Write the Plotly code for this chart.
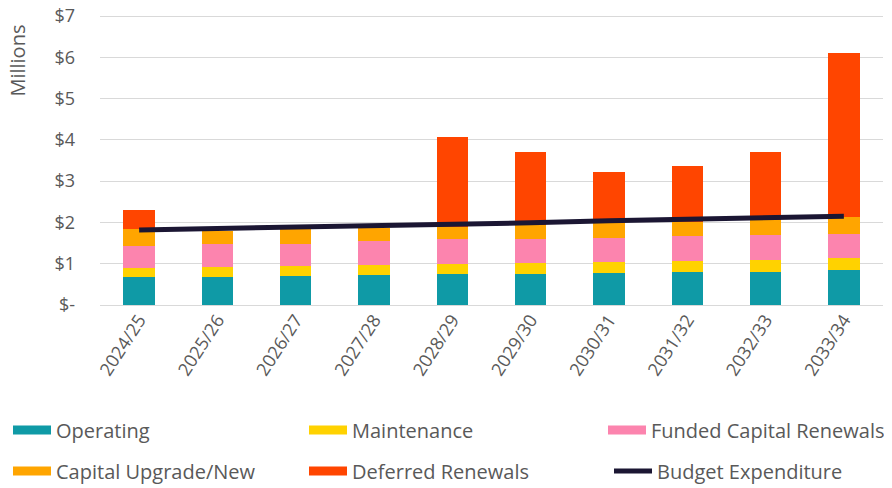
import plotly.graph_objects as go

years = ["2024/25", "2025/26", "2026/27", "2027/28", "2028/29",
         "2029/30", "2030/31", "2031/32", "2032/33", "2033/34"]
operating = [0.67, 0.69, 0.71, 0.72, 0.74, 0.76, 0.77, 0.79, 0.81, 0.84]
maintenance = [0.23, 0.24, 0.23, 0.26, 0.26, 0.26, 0.27, 0.27, 0.28, 0.29]
funded_capital = [0.54, 0.54, 0.55, 0.58, 0.59, 0.59, 0.59, 0.61, 0.61, 0.59]
capital_upgrade = [0.39, 0.33, 0.37, 0.31, 0.31, 0.32, 0.36, 0.35, 0.36, 0.42]
deferred = [0.48, 0, 0, 0, 2.18, 1.78, 1.23, 1.34, 1.64, 3.97]
budget = [1.82, 1.85, 1.89, 1.93, 1.96, 1.99, 2.04, 2.07, 2.11, 2.15]

tick_vals = [0, 1, 2, 3, 4, 5, 6, 7]
tick_text = ["$-", "$1", "$2", "$3", "$4", "$5", "$6", "$7"]

FONT = "Open Sans"
GREY = "#595959"
# page body has an 8px margin, so the figure is sized to fill the rest of the window
W, H = 884, 480

series = [
    ("Operating", operating, "#0F9AA6"),
    ("Maintenance", maintenance, "#FFD200"),
    ("Funded Capital Renewals", funded_capital, "#FC84AE"),
    ("Capital Upgrade/New", capital_upgrade, "#FFA500"),
    ("Deferred Renewals", deferred, "#FF4500"),
]
# legend slots: (x px of legend box, y px of row centre), figure coordinates
legend_slots = [(0, 422), (296, 422), (595, 422),
                (0, 463), (296, 463), (601, 463)]

fig = go.Figure()
for name, vals, col in series:
    fig.add_trace(go.Bar(x=years, y=vals, name=name, marker_color=col,
                         marker_line_width=0, showlegend=False))

fig.add_trace(go.Scatter(x=years, y=budget, mode="lines", name="Budget Expenditure",
                         line=dict(color="#1B1633", width=5), showlegend=False))

legend_ids = ["legend", "legend2", "legend3", "legend4", "legend5", "legend6"]
for i, (name, vals, col) in enumerate(series):
    fig.add_trace(go.Scatter(x=[None], y=[None], mode="lines", name=name,
                             line=dict(color=col, width=9), legend=legend_ids[i]))
fig.add_trace(go.Scatter(x=[None], y=[None], mode="lines", name="Budget Expenditure",
                         line=dict(color="#1B1633", width=5), legend=legend_ids[5]))

legends = {}
for lid, (lx, ly) in zip(legend_ids, legend_slots):
    legends[lid] = dict(xref="container", yref="container",
                        x=lx / W, y=1 - ly / H, xanchor="left", yanchor="middle",
                        itemwidth=38, bgcolor="rgba(0,0,0,0)",
                        font=dict(family=FONT, size=20, color=GREY))

fig.update_layout(
    width=W, height=H,
    barmode="stack", bargap=0.6,
    plot_bgcolor="white", paper_bgcolor="white",
    margin=dict(l=92, r=9, t=6, b=183, autoexpand=False),
    font=dict(family=FONT, color=GREY, size=18),
    xaxis=dict(tickangle=-57, tickfont=dict(size=18, color=GREY),
               showgrid=False, showline=False, ticks="", automargin=False,
               ticklabeloverflow="allow"),
    yaxis=dict(range=[0, 7.05], tickvals=tick_vals, ticktext=tick_text,
               tickfont=dict(size=18, color=GREY), showgrid=True,
               gridcolor="#D9D9D9", gridwidth=1, zeroline=True,
               zerolinecolor="#D9D9D9", zerolinewidth=1,
               ticklabelstandoff=24, automargin=False,
               ticklabeloverflow="allow"),
    annotations=[dict(text="Millions", xref="paper", yref="paper",
                      x=-0.1047, y=0.84, xanchor="center", yanchor="middle",
                      textangle=-90, showarrow=False,
                      font=dict(family=FONT, size=20, color=GREY))],
    **legends,
)

fig.write_html("out.html")
